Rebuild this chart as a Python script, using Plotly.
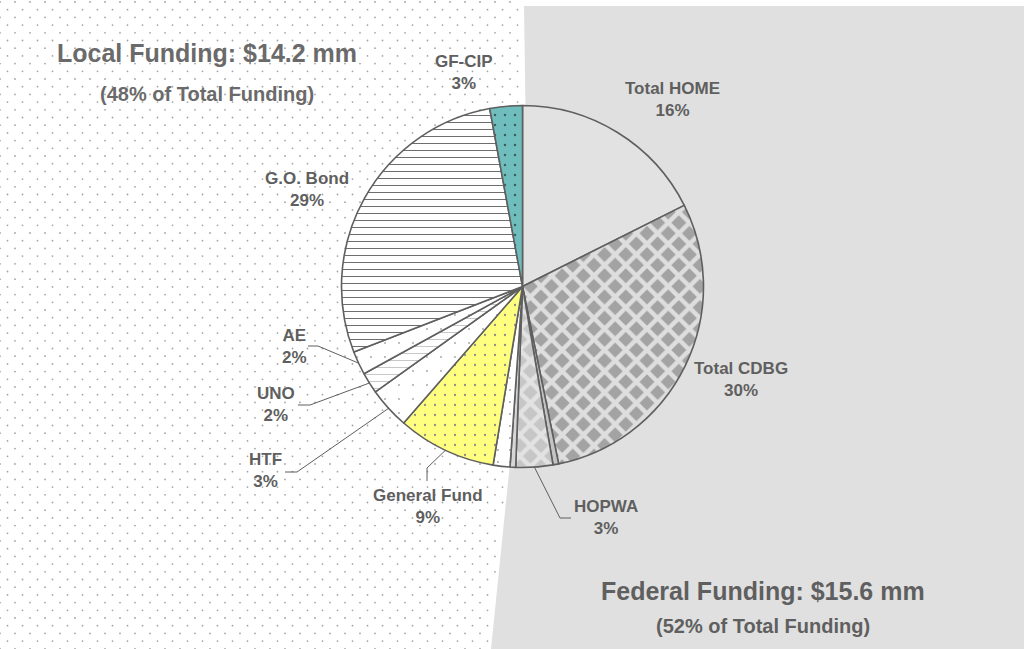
import numpy as np
import plotly.graph_objects as go

W, H = 1024, 649

# ---------------- data (slices clockwise from 12 o'clock) ----------------
categories = ["Total HOME", "Total CDBG", "Federal (other a)", "HOPWA", "Federal (other b)",
              "Local (other)", "General Fund", "HTF", "UNO", "AE", "G.O. Bond", "GF-CIP"]
shares = [17.6, 29.2, 0.5, 3.3, 0.5, 1.5, 8.8, 3.7, 1.9, 2.1, 28.0, 2.9]
printed_pct = ["16%", "30%", "", "3%", "", "", "9%", "3%", "2%", "2%", "29%", "3%"]

local_amount, local_pct = 14.2, 48
federal_amount, federal_pct = 15.6, 52

# ---------------- styles ----------------
fills = ["#e2e2e2", "#a3a3a3", "#c4c4c4", "#c6c6c6", "#d6d6d6", "#ffffff",
         "#ffff80", "#ffffff", "#ffffff", "#ffffff", "#ffffff", "#6fbdbd"]
pat_shape = ["", "x", "", "x", "", ".", ".", ".", "-", ".", "-", "."]
pat_fg = ["#e2e2e2", "#dedede", "#c4c4c4", "#e2e2e2", "#d6d6d6", "#a0a0a0",
          "#8a8a8a", "#a8a8a8", "#bdbdbd", "#a8a8a8", "#6e6e6e", "#3f5f5f"]
pat_bg = fills
pat_size = [8, 15, 8, 15, 8, 12, 10, 14, 7, 14, 7, 10]
pat_solid = [0.1, 0.5, 0.1, 0.5, 0.1, 0.02, 0.04, 0.015, 0.12, 0.015, 0.15, 0.05]

line_col = "#5f5f5f"
text_col = "#5f5f5f"
FONT = "Liberation Sans, Arial, sans-serif"

# pie geometry in pixels
CX, CY, R = 522.5, 286.5, 181.0

# label positions (pixel centres) and leader-line anchors
label_pos = {
    "Total HOME": (672, 99),
    "Total CDBG": (741, 379),
    "HOPWA": (606, 517),
    "General Fund": (428, 506),
    "HTF": (265, 470),
    "UNO": (276, 404),
    "AE": (294, 346),
    "G.O. Bond": (307, 189),
    "GF-CIP": (464, 72),
}
leader_start = {   # (start point, elbow point)
    "HOPWA": ((571, 518), (560, 518)),
    "General Fund": ((427, 481), (427, 468)),
    "HTF": ((285, 472), (297, 472)),
    "UNO": ((298, 405), (310, 405)),
    "AE": ((308, 346), (318, 346)),
}

fig = go.Figure()

# background dotted texture on the local (left) side
gx, gy = np.meshgrid(np.arange(0, 540, 15.0), np.arange(2, H + 8, 7.7))
gx = gx + (np.arange(gx.shape[0])[:, None] % 2) * 7.5
def boundary(y):
    return np.where(y < CY, 524 + (y / CY) * 4, 528 - (y - CY) * (37 / (H - CY)))
mask = gx < boundary(gy) - 3
fig.add_trace(go.Scatter(x=gx[mask], y=gy[mask], mode="markers",
                         marker=dict(size=1.8, color="#a4a4a4"),
                         hoverinfo="skip", showlegend=False))

# pie
fig.add_trace(go.Pie(
    labels=categories, values=shares, sort=False, direction="clockwise", rotation=0,
    textinfo="none", hoverinfo="label+percent",
    domain=dict(x=[(CX - R) / W, (CX + R) / W], y=[1 - (CY + R) / H, 1 - (CY - R) / H]),
    marker=dict(colors=fills, line=dict(color=line_col, width=1.6),
                pattern=dict(shape=pat_shape, fgcolor=pat_fg, bgcolor=pat_bg,
                             size=pat_size, solidity=pat_solid, fillmode="replace")),
    showlegend=False,
))

# federal grey region
fig.add_shape(type="path", xref="x", yref="y", layer="below",
              path=f"M 524,6 L {W},6 L {W},{H} L 491,{H} L 528,{CY} Z",
              fillcolor="#e0e0e0", line=dict(width=0))

# slice mid-angles from the data
vals = np.array(shares, dtype=float)
cum = np.cumsum(vals) / vals.sum()
mid = (cum - vals / vals.sum() / 2) * 2 * np.pi
edge = {c: (CX + R * np.sin(a), CY - R * np.cos(a)) for c, a in zip(categories, mid)}

for cat, ((sx, sy), (ex, ey)) in leader_start.items():
    px, py = edge[cat]
    fig.add_shape(type="path", xref="x", yref="y", layer="above",
                  path=f"M {sx},{sy} L {ex},{ey} L {px:.1f},{py:.1f}",
                  line=dict(color=line_col, width=1))

for cat, pct in zip(categories, printed_pct):
    if cat in label_pos:
        x, y = label_pos[cat]
        fig.add_annotation(x=x, y=y, xref="x", yref="y", text=f"{cat}<br>{pct}",
                           showarrow=False, xanchor="center", yanchor="middle",
                           font=dict(family=FONT, size=17, color=text_col, weight="bold"))

# summary texts
fig.add_annotation(x=207, y=53, xref="x", yref="y",
                   text=f"Local Funding: ${local_amount} mm", showarrow=False,
                   font=dict(family=FONT, size=25, color="#6a6a6a", weight="bold"))
fig.add_annotation(x=207, y=94, xref="x", yref="y",
                   text=f"({local_pct}% of Total Funding)", showarrow=False,
                   font=dict(family=FONT, size=20, color="#6a6a6a", weight="bold"))
fig.add_annotation(x=763, y=591, xref="x", yref="y",
                   text=f"Federal Funding: ${federal_amount} mm", showarrow=False,
                   font=dict(family=FONT, size=25, color=text_col, weight="bold"))
fig.add_annotation(x=763, y=626, xref="x", yref="y",
                   text=f"({federal_pct}% of Total Funding)", showarrow=False,
                   font=dict(family=FONT, size=20, color=text_col, weight="bold"))

fig.update_layout(
    width=W, height=H, margin=dict(l=0, r=0, t=0, b=0),
    paper_bgcolor="white", plot_bgcolor="rgba(0,0,0,0)", showlegend=False,
    xaxis=dict(range=[0, W], visible=False, fixedrange=True, domain=[0, 1]),
    yaxis=dict(range=[H, 0], visible=False, fixedrange=True, domain=[0, 1]),
)

fig.write_html("out.html")
